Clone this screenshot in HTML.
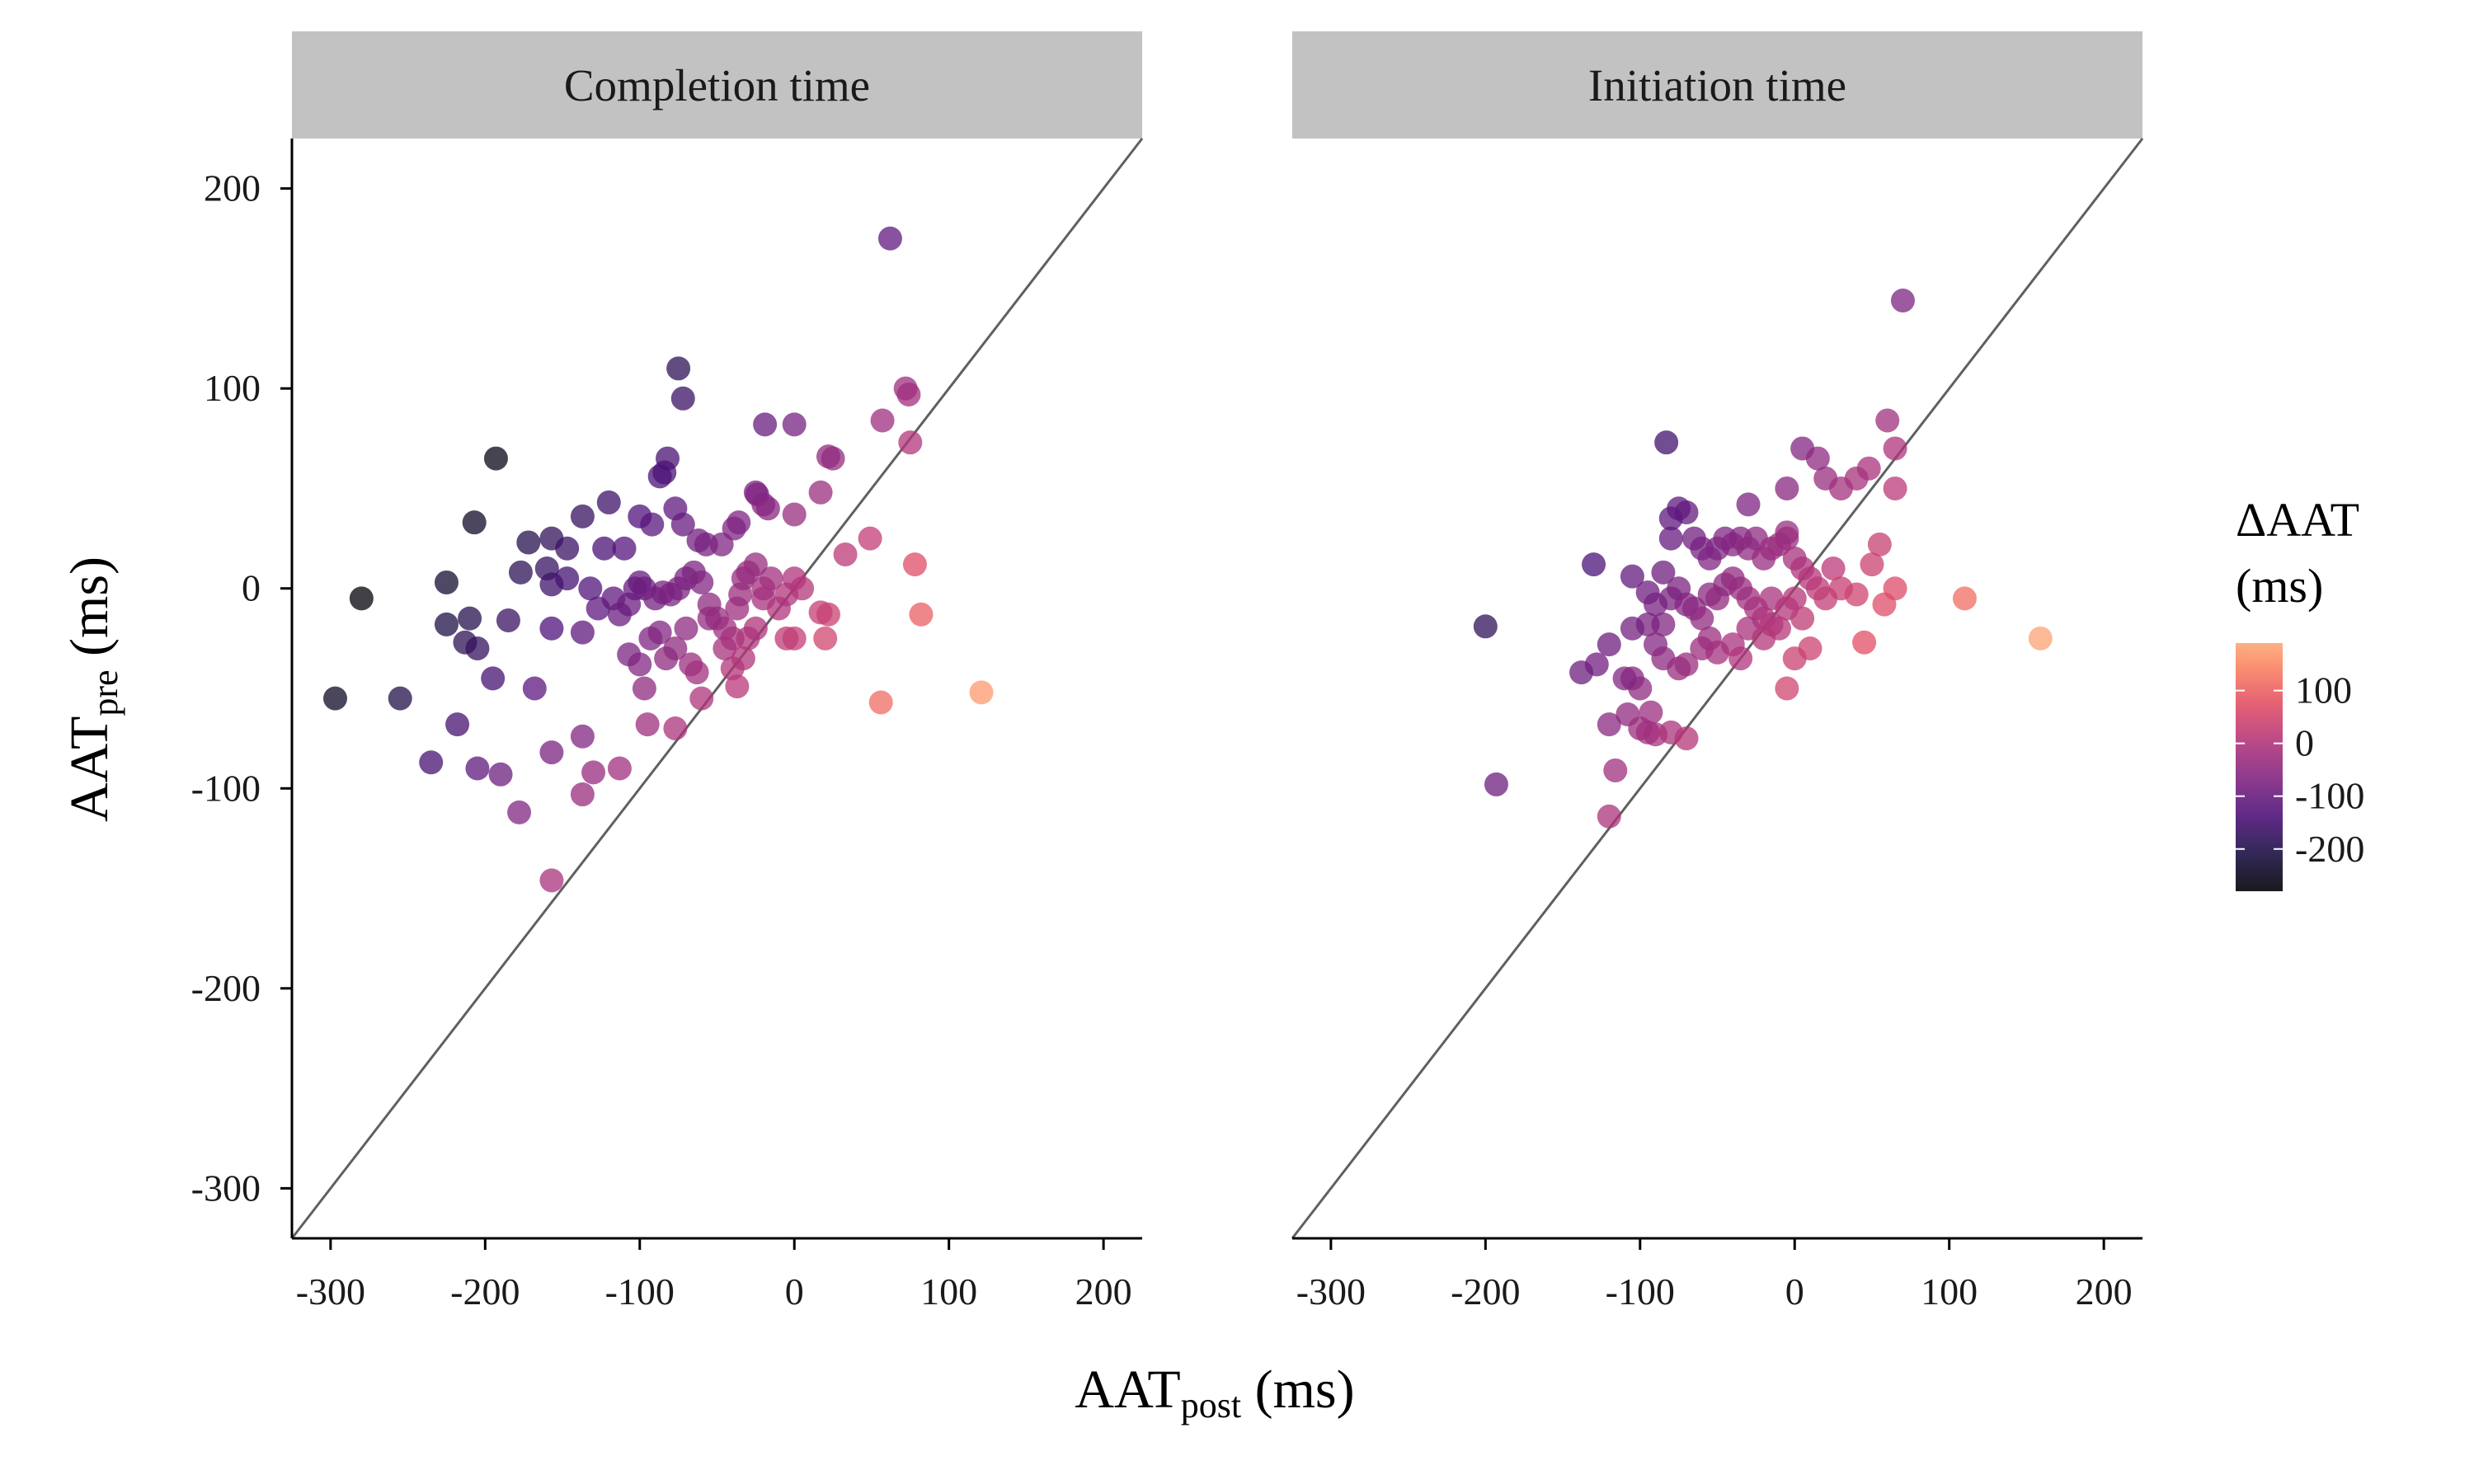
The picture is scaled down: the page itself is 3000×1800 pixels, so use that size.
<!DOCTYPE html>
<html><head><meta charset="utf-8">
<style>
html,body{margin:0;padding:0;background:#fff;}
svg{display:block;font-family:"Liberation Serif",serif;}
</style></head>
<body>
<svg id="chart" width="3000" height="1800" viewBox="0 0 3000 1800" xmlns="http://www.w3.org/2000/svg"></svg>
<script>
const xTicks=[-300,-200,-100,0,100,200];
const yTicks=[-300,-200,-100,0,100,200];
const legendTicks=[100,0,-100,-200];
const panelTitles=["Completion time","Initiation time"];
const compX=[62,-75,-72,72,74,-19,0,57,22,25,75,-193,-82,-84,-87,-207,-157,-137,-120,-172,-147,-123,-100,-77,-72,-92,-62,-57,-47,-39,-36,-25,-24,-20,-17,0,17,49,33,-225,-177,-160,-157,-147,-132,-117,-107,-110,-103,-100,-97,-90,-85,-80,-75,-70,-65,-60,-55,-50,-45,-40,-37,-35,-33,-30,-25,-20,-15,-10,-5,0,5,-20,-280,-225,-210,-213,-205,-185,-157,-137,-127,-113,-107,-100,-97,-93,-87,-83,-77,-70,-67,-63,-60,-55,-45,-40,-37,-33,-30,-25,-5,0,20,17,22,78,82,56,121,-297,-255,-195,-168,-218,-235,-205,-190,-137,-130,-113,-137,-178,-157,-95,-77,-157];
const compY=[175,110,95,100,97,82,82,84,66,65,73,65,65,58,56,33,25,36,43,23,20,20,36,40,32,32,24,22,22,30,33,48,47,42,40,37,48,25,17,3,8,10,2,5,0,-5,-8,20,0,3,0,-5,-2,-3,0,5,8,3,-8,-15,-20,-25,-10,-3,5,8,12,-5,5,-10,-3,5,0,0,-5,-18,-15,-27,-30,-16,-20,-22,-10,-13,-33,-38,-50,-25,-22,-35,-30,-20,-38,-42,-55,-15,-30,-40,-49,-35,-25,-20,-25,-25,-25,-12,-13,12,-13,-57,-52,-55,-55,-45,-50,-68,-87,-90,-93,-74,-92,-90,-103,-112,-82,-68,-70,-146];
const initX=[70,-83,60,65,5,15,-5,20,30,40,48,65,-75,-70,-30,-5,-130,-105,-80,-80,-65,-60,-55,-50,-45,-40,-35,-30,-25,-20,-15,-10,-5,0,5,10,15,20,25,30,40,50,55,58,65,-85,-80,-75,-70,-65,-60,-55,-50,-45,-40,-35,-30,-25,-20,-15,-10,-5,0,5,10,0,-5,-95,-90,-85,-95,-90,-85,-75,-70,-60,-55,-50,-40,-35,-30,-20,-15,45,110,159,-200,-193,-138,-128,-120,-105,-100,-108,-100,-93,-90,-95,-80,-70,-120,-116,-120,-105,-110];
const initY=[144,73,84,70,70,65,50,55,50,55,60,50,40,38,42,28,12,6,25,35,25,20,15,20,25,22,25,20,25,15,20,22,25,15,10,5,0,-5,10,0,-3,12,22,-8,0,8,-5,0,-8,-10,-15,-3,-5,2,5,0,-5,-10,-15,-5,-20,-10,-5,-15,-30,-35,-50,-2,-8,-18,-18,-28,-35,-40,-38,-30,-25,-32,-28,-35,-20,-25,-18,-27,-5,-25,-19,-98,-42,-38,-28,-45,-50,-63,-70,-62,-73,-72,-72,-75,-68,-91,-114,-20,-45];

const NS="http://www.w3.org/2000/svg";
const svg=document.getElementById('chart');
function mk(tag,attrs,parent){const e=document.createElementNS(NS,tag);for(const k in attrs)e.setAttribute(k,attrs[k]);(parent||svg).appendChild(e);return e;}
const D0=-325,D1=225;
const panels=[{x0:354,x1:1385},{x0:1567,x1:2598}];
const PY0=168,PY1=1502;
function yS(v){return PY1-(v-D0)/(D1-D0)*(PY1-PY0);}
const magma=[[0,0,4],[28,16,68],[79,18,123],[129,37,129],[181,54,122],[229,80,100],[251,135,97],[254,194,135],[252,253,191]];
const CMIN=-280,CMAX=190;
function col(d){let t=(d-CMIN)/(CMAX-CMIN);t=Math.max(0,Math.min(1,t))*0.82;
 const p=t*(magma.length-1);const i=Math.min(magma.length-2,Math.floor(p));const f=p-i;
 const c=magma[i].map((v,j)=>Math.round(v+(magma[i+1][j]-v)*f));return `rgb(${c[0]},${c[1]},${c[2]})`;}

const datasets=[[compX,compY],[initX,initY]];
panels.forEach((p,pi)=>{
 const xS=v=>p.x0+(v-D0)/(D1-D0)*(p.x1-p.x0);
 const g=mk('g',{});
 
 
 const strip=mk('rect',{x:p.x0,y:38,width:p.x1-p.x0,height:130,fill:'#c2c2c2'},g);
 
 
 const st=mk('text',{x:(p.x0+p.x1)/2,y:122,'text-anchor':'middle','font-size':55,fill:'#1a1a1a'},g);
 st.textContent=panelTitles[pi];
 
 
 const dl=mk('line',{x1:xS(D0),y1:yS(D0),x2:xS(D1),y2:yS(D1),stroke:'#606060','stroke-width':3},g);
 
 
 const [xs,ys]=datasets[pi];
 xs.forEach((xv,i)=>{const yv=ys[i];
  const c=mk('circle',{cx:xS(xv),cy:yS(yv),r:14.5,fill:col(xv-yv),'fill-opacity':0.75},g);
  
  });
 const xa=mk('line',{x1:p.x0,y1:PY1,x2:p.x1,y2:PY1,stroke:'#000','stroke-width':3},g);
 
 
 xTicks.forEach(t=>{mk('line',{x1:xS(t),y1:PY1,x2:xS(t),y2:PY1+14,stroke:'#000','stroke-width':3},g);
  const tl=mk('text',{x:xS(t),y:1582,'text-anchor':'middle','font-size':46,fill:'#1a1a1a'},g);
  tl.textContent=t;
  
  });
 if(pi===0){
  const ya=mk('line',{x1:p.x0,y1:PY0,x2:p.x0,y2:PY1,stroke:'#000','stroke-width':3},g);
  
  
  yTicks.forEach(t=>{mk('line',{x1:p.x0-14,y1:yS(t),x2:p.x0,y2:yS(t),stroke:'#000','stroke-width':3},g);
   const tl=mk('text',{x:316,y:yS(t)+15,'text-anchor':'end','font-size':46,fill:'#1a1a1a'},g);
   tl.textContent=t;
   
   });
 }
});
const xt=mk('text',{x:1473,y:1707,'text-anchor':'middle','font-size':66,fill:'#000'});
xt.innerHTML='AAT<tspan font-size="44" dy="12">post</tspan><tspan dy="-12"> (ms)</tspan>';


const yt=mk('text',{x:0,y:0,'text-anchor':'middle','font-size':66,fill:'#000',transform:'translate(130,836) rotate(-90)'});
yt.innerHTML='AAT<tspan font-size="44" dy="12">pre</tspan><tspan dy="-12"> (ms)</tspan>';


const lt=mk('text',{x:2711,y:650,'font-size':58,fill:'#000'});lt.textContent='ΔAAT';


const lt2=mk('text',{x:2711,y:730,'font-size':58,fill:'#000'});lt2.textContent='(ms)';


const defs=mk('defs',{});
const lg=mk('linearGradient',{id:'cg',x1:0,y1:1,x2:0,y2:0},defs);
for(let i=0;i<=20;i++){const v=CMIN+(CMAX-CMIN)*i/20;mk('stop',{offset:i/20,'stop-color':col(v),'stop-opacity':0.9},lg);}
const LB0=780,LB1=1081;
const cb=mk('rect',{x:2711,y:LB0,width:57,height:LB1-LB0,fill:'url(#cg)'});


legendTicks.forEach(t=>{const yy=LB1-(t-CMIN)/(CMAX-CMIN)*(LB1-LB0);
 mk('line',{x1:2711,y1:yy,x2:2722,y2:yy,stroke:'#fff','stroke-width':2});
 mk('line',{x1:2757,y1:yy,x2:2768,y2:yy,stroke:'#fff','stroke-width':2});
 const tl=mk('text',{x:2783,y:yy+15,'font-size':46,fill:'#1a1a1a'});tl.textContent=t;
 
 });
</script>
</body></html>
